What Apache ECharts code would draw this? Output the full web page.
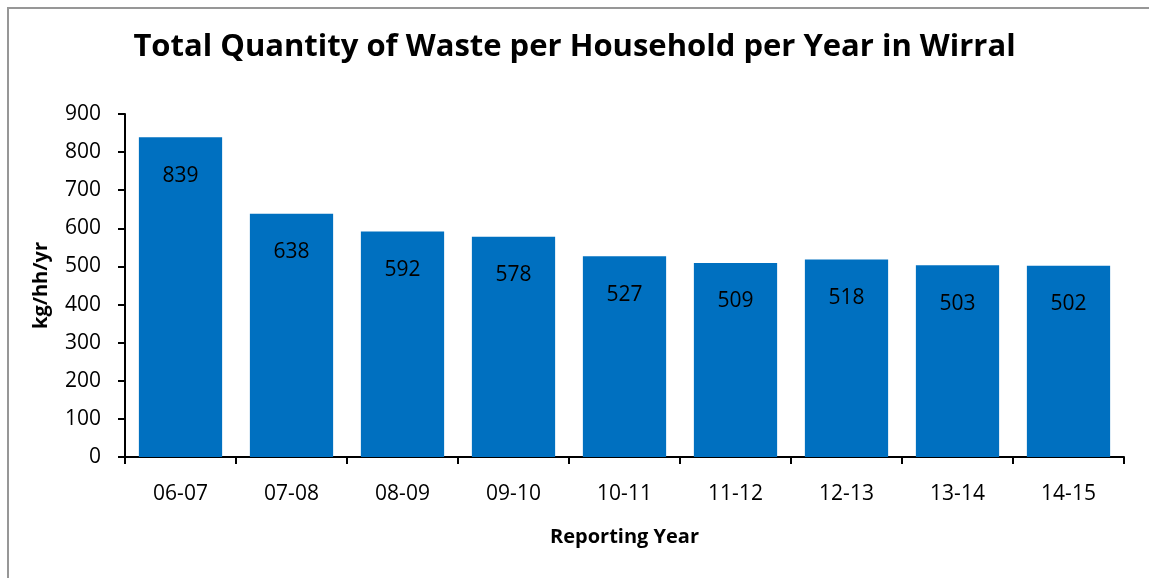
<!DOCTYPE html>
<html>
<head>
<meta charset="utf-8">
<script src="https://cdn.jsdelivr.net/npm/echarts@6/dist/echarts.min.js"></script>
<style>
  html, body { margin: 0; padding: 0; background: #fff; }
  #chart { width: 1149px; height: 578px; }
</style>
</head>
<body>
<div id="chart"></div>
<script>
// data
const years = ["06-07", "07-08", "08-09", "09-10", "10-11", "11-12", "12-13", "13-14", "14-15"];
const waste_kg = [839, 638, 592, 578, 527, 509, 518, 503, 502];

const font = "'Open Sans', sans-serif";
const bar_color = "#0070C0";

const chart = echarts.init(document.getElementById("chart"));

chart.setOption({
  backgroundColor: "#fff",
  animation: false,
  title: {
    text: "Total Quantity of Waste per Household per Year in Wirral",
    left: "center",
    top: 27,
    textStyle: { fontFamily: font, fontSize: 31, fontWeight: "bold", color: "#000" },
  },
  // outer frame (only left/top edges visible in the picture)
  graphic: [
    {
      type: "rect",
      shape: { x: 8, y: 8, width: 1200, height: 640 },
      style: { fill: null, stroke: "#979797", lineWidth: 2 },
      silent: true,
    },
  ],
  grid: { left: 125, right: 25, top: 114, bottom: 121 },
  xAxis: {
    type: "category",
    data: years,
    name: "Reporting Year",
    nameLocation: "middle",
    nameGap: 70,
    nameTextStyle: { fontFamily: font, fontSize: 20, fontWeight: "bold", color: "#000" },
    axisLine: { lineStyle: { color: "#000", width: 2 } },
    axisTick: { show: true, alignWithLabel: false, length: 7, lineStyle: { color: "#000", width: 2 } },
    axisLabel: { fontFamily: font, fontSize: 21, color: "#000", margin: 27 },
  },
  yAxis: {
    type: "value",
    min: 0,
    max: 900,
    interval: 100,
    name: "kg/hh/yr",
    nameLocation: "middle",
    nameGap: 74,
    nameTextStyle: { fontFamily: font, fontSize: 20, fontWeight: "bold", color: "#000" },
    axisLine: { show: true, lineStyle: { color: "#000", width: 2 } },
    axisTick: { show: true, length: 7, lineStyle: { color: "#000", width: 2 } },
    axisLabel: { fontFamily: font, fontSize: 21, color: "#000", margin: 24 },
    splitLine: { show: false },
  },
  series: [
    {
      type: "bar",
      data: waste_kg,
      barCategoryGap: "25%",
      itemStyle: { color: bar_color },
      label: {
        show: true,
        position: "insideTop",
        distance: 28,
        fontFamily: font,
        fontSize: 21,
        color: "#000",
      },
    },
  ],
});
</script>
</body>
</html>
